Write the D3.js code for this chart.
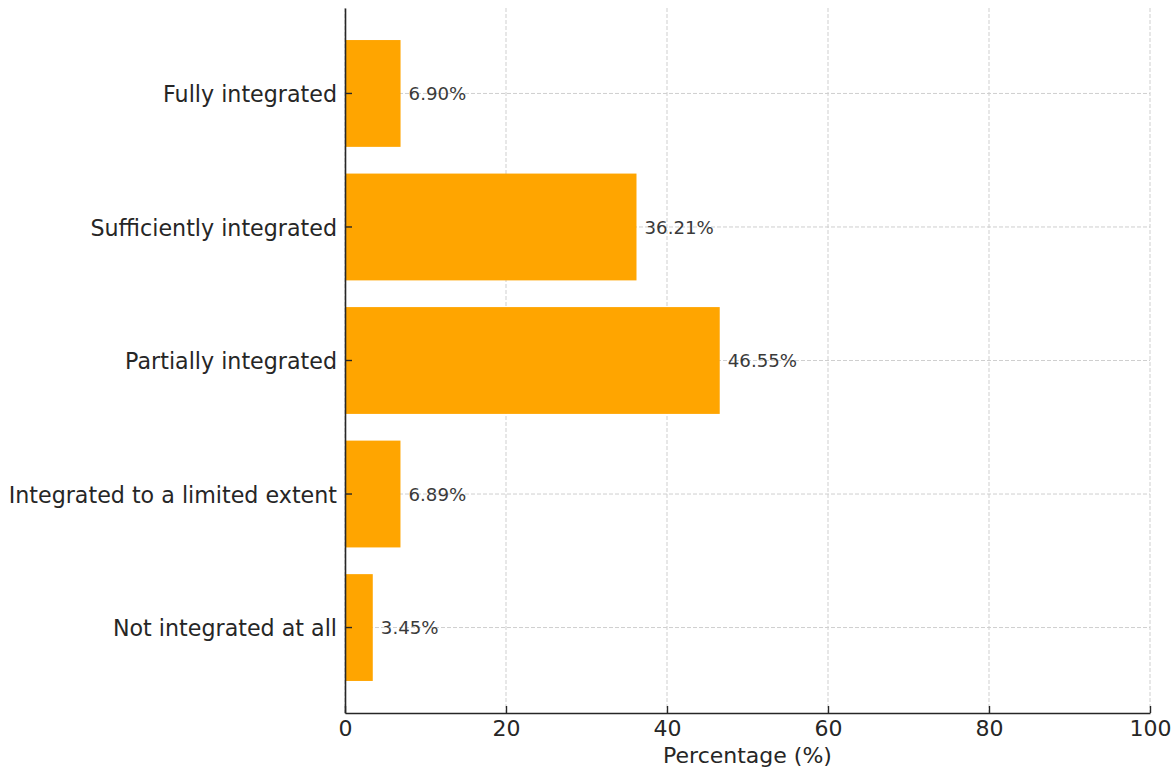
<!DOCTYPE html>
<html>
<head>
<meta charset="utf-8">
<script src="https://cdn.jsdelivr.net/npm/d3@7"></script>
<style>
  html, body { margin: 0; padding: 0; background: #fff; }
  svg { display: block; font-family: "DejaVu Sans", sans-serif; }
</style>
</head>
<body>
<svg id="chart" width="1173" height="769"></svg>
<script>
// Integration levels, listed top to bottom
const categories = [
  "Fully integrated",
  "Sufficiently integrated",
  "Partially integrated",
  "Integrated to a limited extent",
  "Not integrated at all"
];
const percentages = [6.90, 36.21, 46.55, 6.89, 3.45];
const xTicks = [0, 20, 40, 60, 80, 100];
const xLabel = "Percentage (%)";

const svg = d3.select("#chart");
const margin = { left: 345, right: 23, top: 8, bottom: 56 };
const W = 1173, H = 769;

const x = d3.scaleLinear().domain([0, 100]).range([margin.left, W - margin.right]);
const y = d3.scaleBand()
  .domain(categories)
  .range([margin.top, H - margin.bottom])
  .paddingInner(0.2)
  .paddingOuter(0.24);

const gridColor = "#cfcfcf";
const axisColor = "#262626";

// grid (drawn beneath bars)
const grid = svg.append("g");
grid.selectAll("line.vg").data(xTicks).join("line")
  .attr("x1", d => x(d)).attr("x2", d => x(d))
  .attr("y1", margin.top).attr("y2", H - margin.bottom)
  .attr("stroke", gridColor).attr("stroke-width", 1)
  .attr("stroke-dasharray", "4,2");
grid.selectAll("line.hg").data(categories).join("line")
  .attr("x1", x(0)).attr("x2", x(100))
  .attr("y1", d => y(d) + y.bandwidth() / 2).attr("y2", d => y(d) + y.bandwidth() / 2)
  .attr("stroke", gridColor).attr("stroke-width", 1)
  .attr("stroke-dasharray", "4,2");

// bars
const rows = categories.map((c, i) => ({ c, v: percentages[i] }));
svg.append("g").selectAll("rect").data(rows).join("rect")
  .attr("x", x(0))
  .attr("y", d => y(d.c))
  .attr("width", d => x(d.v) - x(0))
  .attr("height", y.bandwidth())
  .attr("fill", "#FFA500");

// value labels
svg.append("g").selectAll("text").data(rows).join("text")
  .attr("x", d => x(d.v + 1))
  .attr("y", d => y(d.c) + y.bandwidth() / 2)
  .attr("dy", "0.36em")
  .attr("font-size", 18.2)
  .attr("fill", "#3a3a3a")
  .text(d => d.v.toFixed(2) + "%");

// x axis with inward ticks
const xAxis = svg.append("g")
  .attr("transform", `translate(0,${H - margin.bottom})`)
  .call(d3.axisBottom(x).tickValues(xTicks).tickSizeInner(-7).tickSizeOuter(0).tickPadding(8));
xAxis.select(".domain").attr("stroke", axisColor).attr("stroke-width", 1.6);
xAxis.selectAll(".tick line").attr("stroke", axisColor).attr("stroke-width", 1.4);
xAxis.selectAll(".tick text")
  .attr("font-size", 22).attr("fill", axisColor)
  .attr("font-family", "DejaVu Sans").attr("y", 7).attr("dy", "0.71em");

// y axis with inward ticks
const yAxis = svg.append("g")
  .attr("transform", `translate(${margin.left},0)`)
  .call(d3.axisLeft(y).tickSizeInner(-7).tickSizeOuter(0).tickPadding(8));
yAxis.select(".domain").attr("stroke", axisColor).attr("stroke-width", 1.6);
yAxis.selectAll(".tick line").attr("stroke", axisColor).attr("stroke-width", 1.4);
yAxis.selectAll(".tick text")
  .attr("font-size", 22.2).attr("fill", axisColor)
  .attr("font-family", "DejaVu Sans").attr("x", -8).attr("dy", "0.4em");

// x axis title
svg.append("text")
  .attr("x", x(50)).attr("y", 763)
  .attr("text-anchor", "middle")
  .attr("font-size", 22).attr("fill", axisColor)
  .text(xLabel);
</script>
</body>
</html>
